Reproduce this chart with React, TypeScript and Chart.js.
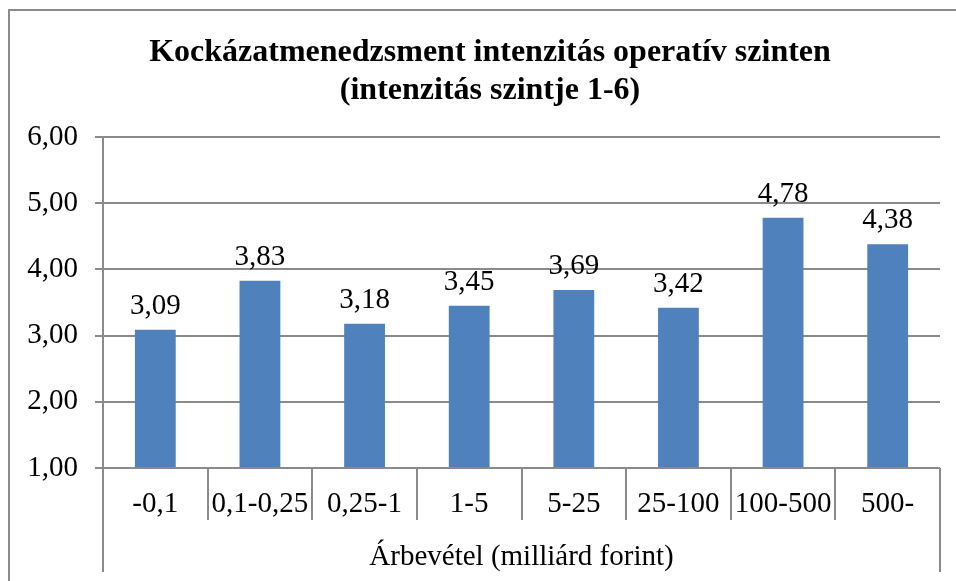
import React, { useEffect, useRef } from "react";
import { Chart, registerables } from "chart.js";

Chart.register(...registerables);

const titleLines = ["Kockázatmenedzsment intenzitás operatív szinten", "(intenzitás szintje 1-6)"];
const categories = ["-0,1", "0,1-0,25", "0,25-1", "1-5", "5-25", "25-100", "100-500", "500-"];
const values = [3.09, 3.83, 3.18, 3.45, 3.69, 3.42, 4.78, 4.38];
const axisTitle = "Árbevétel (milliárd forint)";
const yMin = 1;
const yMax = 6;
const yStep = 1;

const FONT = "'Liberation Serif', 'Times New Roman', serif";
const GRID = "#8a8a8a";
const BAR = "#4F81BD";

const fmt = (v: number) => v.toFixed(2).replace(".", ",");

const decor = {
  id: "decor",
  beforeDraw(chart: any) {
    const ctx = chart.ctx;
    ctx.save();
    ctx.fillStyle = "#ffffff";
    ctx.fillRect(0, 0, chart.width, chart.height);
    ctx.strokeStyle = GRID;
    ctx.lineWidth = 2;
    ctx.beginPath();
    ctx.moveTo(9, chart.height);
    ctx.lineTo(9, 10);
    ctx.lineTo(chart.width, 10);
    ctx.stroke();
    ctx.restore();
  },
  afterDraw(chart: any) {
    const ctx = chart.ctx;
    const x = chart.scales.x;
    const y = chart.scales.y;
    const area = chart.chartArea;
    ctx.save();
    // title
    ctx.fillStyle = "#000";
    ctx.textAlign = "center";
    ctx.textBaseline = "alphabetic";
    ctx.font = `bold 32px ${FONT}`;
    ctx.fillText(titleLines[0], 490, 61);
    ctx.fillText(titleLines[1], 490, 99);
    // category separators
    ctx.strokeStyle = GRID;
    ctx.lineWidth = 2;
    ctx.beginPath();
    for (let i = 1; i < categories.length; i++) {
      const px = Math.round(x.getPixelForValue(i - 0.5));
      ctx.moveTo(px, area.bottom);
      ctx.lineTo(px, area.bottom + 52);
    }
    ctx.moveTo(area.left, area.bottom);
    ctx.lineTo(area.left, area.bottom + 104);
    ctx.moveTo(area.right, area.bottom);
    ctx.lineTo(area.right, area.bottom + 104);
    ctx.stroke();
    // axis title
    ctx.font = `29px ${FONT}`;
    ctx.fillText(axisTitle, (area.left + area.right) / 2, area.bottom + 97);
    // data labels
    values.forEach((v, i) => {
      const px = x.getPixelForValue(i);
      const py = y.getPixelForValue(v);
      ctx.fillText(fmt(v), px, py - 16);
    });
    ctx.restore();
  },
};

export default function App() {
  const ref = useRef<HTMLCanvasElement | null>(null);
  useEffect(() => {
    if (!ref.current) return;
    const chart = new Chart(ref.current, {
      type: "bar",
      data: {
        labels: categories,
        datasets: [
          {
            data: values,
            backgroundColor: BAR,
            categoryPercentage: 1,
            barPercentage: 0.39,
            base: yMin,
          },
        ],
      },
      options: {
        responsive: false,
        animation: false,
        devicePixelRatio: 1,
        layout: { padding: { top: 137, left: 0, right: 16, bottom: 0 } },
        plugins: { legend: { display: false }, tooltip: { enabled: false }, title: { display: false } },
        scales: {
          x: {
            type: "category",
            offset: true,
            grid: { display: false, drawTicks: false },
            border: { display: false },
            ticks: { color: "#000", font: { family: FONT, size: 29 }, padding: 19, maxRotation: 0, autoSkip: false },
            afterFit: (s: any) => {
              s.height = 113;
            },
          },
          y: {
            min: yMin,
            max: yMax,
            grid: { color: GRID, lineWidth: 2, tickLength: 8 },
            border: { display: true, color: GRID, width: 2 },
            ticks: {
              stepSize: yStep,
              color: "#000",
              font: { family: FONT, size: 29 },
              padding: 17,
              callback: (v: any) => fmt(Number(v)),
            },
            afterFit: (s: any) => {
              s.width = 103;
            },
          },
        },
      },
      plugins: [decor],
    });
    return () => chart.destroy();
  }, []);
  return (
    <div style={{ position: "fixed", left: 0, top: 0, width: 956, height: 581 }}>
      <canvas ref={ref} width={956} height={581} style={{ width: 956, height: 581, display: "block" }} />
    </div>
  );
}
